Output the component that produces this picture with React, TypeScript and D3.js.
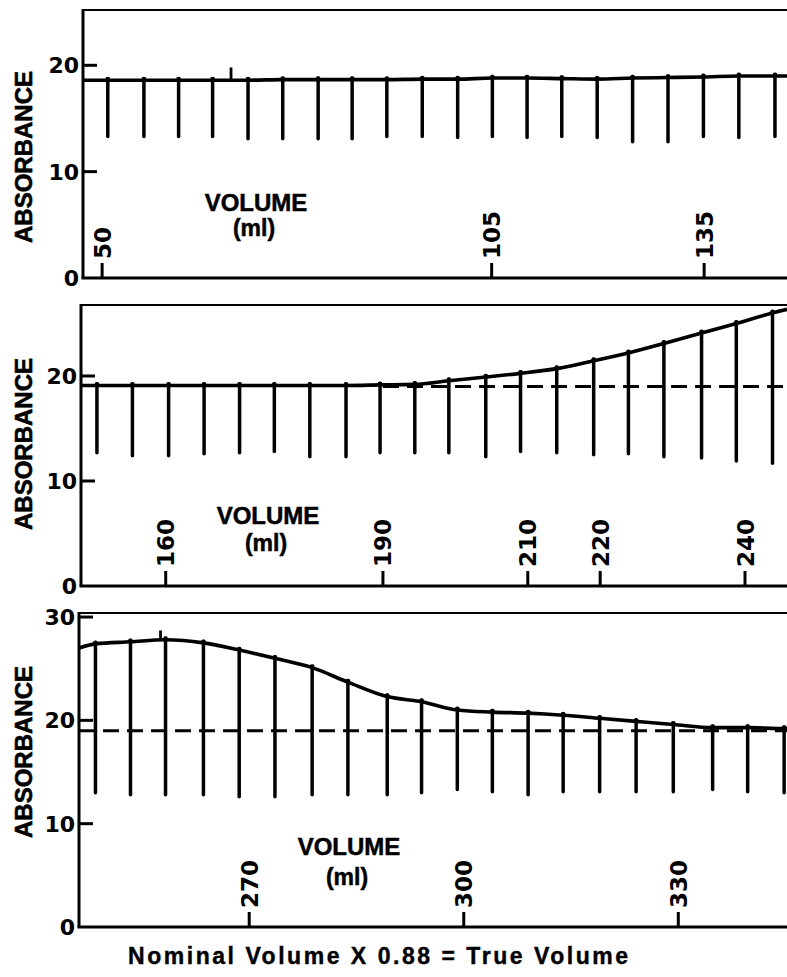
import React from "react";
import * as d3 from "d3";

// ---------- data ----------
// Panel 1 (top)
const topVolumes = [50.8, 55.9, 60.8, 65.6, 70.6, 75.5, 80.5, 85.3, 90.2, 95.2, 100.2, 105.1, 110.0, 114.9, 119.9, 124.9, 129.9, 134.9, 139.9, 145.0];
const topPeak = [18.6, 18.6, 18.6, 18.6, 18.6, 18.65, 18.65, 18.65, 18.65, 18.7, 18.7, 18.8, 18.8, 18.75, 18.7, 18.8, 18.85, 18.9, 19.0, 19.0];
const topFoot = [13.3, 13.3, 13.3, 13.3, 13.1, 13.1, 13.1, 13.1, 13.3, 13.3, 13.2, 13.3, 13.2, 13.3, 13.2, 12.8, 12.8, 13.3, 13.2, 13.3];
const topEdges = [18.6, 19.0];
const topTicks = [50, 105, 135];
const topMarks = [{ v: 68.2, a: 19.8 }];

// Panel 2 (middle)
const midVolumes = [150.5, 155.4, 160.4, 165.3, 170.2, 175.0, 179.9, 184.9, 189.6, 194.4, 199.1, 204.2, 209.0, 214.0, 219.1, 223.9, 228.8, 234.0, 238.8, 243.8];
const midPeak = [19.1, 19.1, 19.1, 19.1, 19.1, 19.1, 19.1, 19.1, 19.15, 19.2, 19.55, 19.9, 20.25, 20.7, 21.45, 22.2, 23.1, 24.1, 25.0, 26.0];
const midFoot = [12.7, 12.4, 12.4, 12.6, 12.7, 12.8, 12.3, 12.3, 12.7, 12.7, 12.7, 12.3, 12.8, 12.7, 12.5, 12.6, 12.3, 12.2, 11.9, 11.7];
const midEdges = [19.1, 26.35];
const midTicks = [160, 190, 210, 220, 240];
const midBaseline = 19.0;
const midBaselineStart = 190;

// Panel 3 (bottom)
const botVolumes = [248.5, 253.4, 258.3, 263.6, 268.6, 273.6, 278.8, 283.8, 289.3, 294.1, 299.1, 304.0, 309.0, 313.9, 319.0, 324.1, 329.3, 334.8, 339.7, 344.8];
const botPeak = [27.4, 27.6, 27.8, 27.5, 26.8, 26.0, 25.1, 23.7, 22.3, 21.8, 21.0, 20.8, 20.7, 20.5, 20.2, 19.9, 19.6, 19.3, 19.3, 19.2];
const botFoot = [13.0, 12.8, 12.8, 12.8, 12.6, 12.6, 12.8, 12.8, 12.8, 13.0, 13.3, 13.1, 12.8, 13.1, 13.1, 13.1, 13.1, 13.3, 13.1, 13.0];
const botEdges = [27.0, 19.2];
const botTicks = [270, 300, 330];
const botBaseline = 19.0;
const botMarks = [{ v: 257.6, a: 28.7 }];

const topYTicks = [0, 10, 20];
const midYTicks = [0, 10, 20];
const botYTicks = [0, 10, 20, 30];

const yTitle = "ABSORBANCE";
const xTitle = "VOLUME";
const xUnit = "(ml)";
const footer = "Nominal Volume X 0.88 = True Volume";

// ---------- layout ----------
const W = 787;
const H = 977;
const LABEL_FONT = "'Liberation Sans', Arial, sans-serif";
const NUM_FONT = "'DejaVu Sans', sans-serif";

type PanelCfg = {
  left: number; right: number; top: number; bottom: number;
  xDomain: [number, number]; yDomain: [number, number];
  vols: number[]; peak: number[]; foot: number[]; edges: number[];
  xTicks: number[]; yTicks: number[];
  baseline?: number; baselineStart?: number;
  marks?: { v: number; a: number }[];
  titleY: number; volX: number; volY: number; unitY: number;
};

const panels: PanelCfg[] = [
  {
    left: 83, right: W, top: 10, bottom: 278,
    xDomain: [47.3, 146.7], yDomain: [0, 25.2],
    vols: topVolumes, peak: topPeak, foot: topFoot, edges: topEdges,
    xTicks: topTicks, yTicks: topYTicks, marks: topMarks,
    titleY: 157, volX: 256, volY: 211, unitY: 236,
  },
  {
    left: 81, right: W, top: 305, bottom: 586,
    xDomain: [148.3, 245.8], yDomain: [0, 26.76],
    vols: midVolumes, peak: midPeak, foot: midFoot, edges: midEdges,
    xTicks: midTicks, yTicks: midYTicks,
    baseline: midBaseline, baselineStart: midBaselineStart,
    titleY: 444, volX: 268, volY: 524, unitY: 551,
  },
  {
    left: 79, right: W, top: 613, bottom: 927,
    xDomain: [246.2, 345.2], yDomain: [0, 30.39],
    vols: botVolumes, peak: botPeak, foot: botFoot, edges: botEdges,
    xTicks: botTicks, yTicks: botYTicks,
    baseline: botBaseline, marks: botMarks,
    titleY: 752, volX: 349, volY: 855, unitY: 885,
  },
];

function Panel({ p }: { p: PanelCfg }) {
  const x = d3.scaleLinear().domain(p.xDomain).range([p.left, p.right]);
  const y = d3.scaleLinear().domain(p.yDomain).range([p.bottom, p.top]);
  const pts: [number, number][] = [
    [p.xDomain[0], p.edges[0]],
    ...p.vols.map((v, i) => [v, p.peak[i]] as [number, number]),
    [p.xDomain[1], p.edges[1]],
  ];
  const line = d3
    .line<[number, number]>()
    .x((d) => x(d[0]))
    .y((d) => y(d[1]))
    .curve(d3.curveMonotoneX);
  const tickLen = 15;
  return (
    <g>
      {/* frame */}
      <line x1={p.left} x2={p.right} y1={p.top} y2={p.top} stroke="#000" strokeWidth={2.2} />
      <line x1={p.left} x2={p.left} y1={p.top - 1} y2={p.bottom} stroke="#000" strokeWidth={3} />
      <line x1={p.left - 1.5} x2={p.right} y1={p.bottom} y2={p.bottom} stroke="#000" strokeWidth={3} />

      {/* y ticks */}
      {p.yTicks.map((t) => (
        <g key={"y" + t}>
          {t > 0 && t < p.yDomain[1] && (
            <line x1={p.left} x2={p.left + 14} y1={y(t)} y2={y(t)} stroke="#000" strokeWidth={3} />
          )}
          <text
            x={p.left - 4}
            y={Math.max(y(t), p.top + 3) + 8}
            textAnchor="end"
            fontFamily={NUM_FONT}
            fontWeight="bold"
            fontSize={22}
          >
            {t}
          </text>
        </g>
      ))}

      {/* x ticks */}
      {p.xTicks.map((t) => (
        <g key={"x" + t}>
          <line x1={x(t)} x2={x(t)} y1={p.bottom} y2={p.bottom - tickLen} stroke="#000" strokeWidth={3} />
          <text
            transform={`translate(${x(t) + 8.5},${p.bottom - tickLen - 4}) rotate(-90)`}
            textAnchor="start"
            fontFamily={NUM_FONT}
            fontWeight="bold"
            fontSize={23}
          >
            {t}
          </text>
        </g>
      ))}

      {/* dashed baseline */}
      {p.baseline !== undefined && (
        <line
          x1={x(p.baselineStart ?? p.xDomain[0])}
          x2={p.right}
          y1={y(p.baseline)}
          y2={y(p.baseline)}
          stroke="#000"
          strokeWidth={3}
          strokeDasharray="16 8"
        />
      )}

      {/* fraction drop lines */}
      {p.vols.map((v, i) => (
        <g key={"f" + i}>
          <line
            x1={x(v)}
            x2={x(v)}
            y1={y(p.foot[i])}
            y2={y(p.peak[i]) - 1.5}
            stroke="#000"
            strokeWidth={3.5}
            strokeLinecap="round"
          />
          <circle cx={x(v)} cy={y(p.peak[i]) - 1} r={2.4} fill="#000" />
        </g>
      ))}

      {/* marks */}
      {(p.marks || []).map((m, i) => {
        const base = d3.scaleLinear().domain(p.vols).range(p.peak).clamp(true)(m.v);
        return (
          <line key={"m" + i} x1={x(m.v)} x2={x(m.v)} y1={y(base)} y2={y(m.a)} stroke="#000" strokeWidth={2.8} />
        );
      })}

      {/* curve */}
      <path d={line(pts) || ""} fill="none" stroke="#000" strokeWidth={3.6} strokeLinejoin="round" />

      {/* titles */}
      <text
        transform={`translate(32,${p.titleY}) rotate(-90)`}
        textAnchor="middle"
        fontFamily={LABEL_FONT}
        fontWeight="bold"
        fontSize={24}
        stroke="#000"
        strokeWidth={0.6}
      >
        {yTitle}
      </text>
      <text x={p.volX} y={p.volY} textAnchor="middle" fontFamily={LABEL_FONT} fontWeight="bold" fontSize={24} stroke="#000" strokeWidth={0.5}>
        {xTitle}
      </text>
      <text x={p.volX - 2} y={p.unitY} textAnchor="middle" fontFamily={LABEL_FONT} fontWeight="bold" fontSize={23} stroke="#000" strokeWidth={0.5}>
        {xUnit}
      </text>
    </g>
  );
}

export default function App() {
  return (
    <svg
      width={W}
      height={H}
      viewBox={`0 0 ${W} ${H}`}
      style={{ position: "absolute", left: 0, top: 0, background: "#fff", display: "block" }}
    >
      <rect x={0} y={0} width={W} height={H} fill="#fff" />
      {panels.map((p, i) => (
        <Panel key={i} p={p} />
      ))}
      <text
        x={378}
        y={964}
        textAnchor="middle"
        fontFamily={LABEL_FONT}
        fontWeight="bold"
        fontSize={23}
        textLength={500}
        lengthAdjust="spacing"
        stroke="#000"
        strokeWidth={0.4}
      >
        {footer}
      </text>
    </svg>
  );
}
